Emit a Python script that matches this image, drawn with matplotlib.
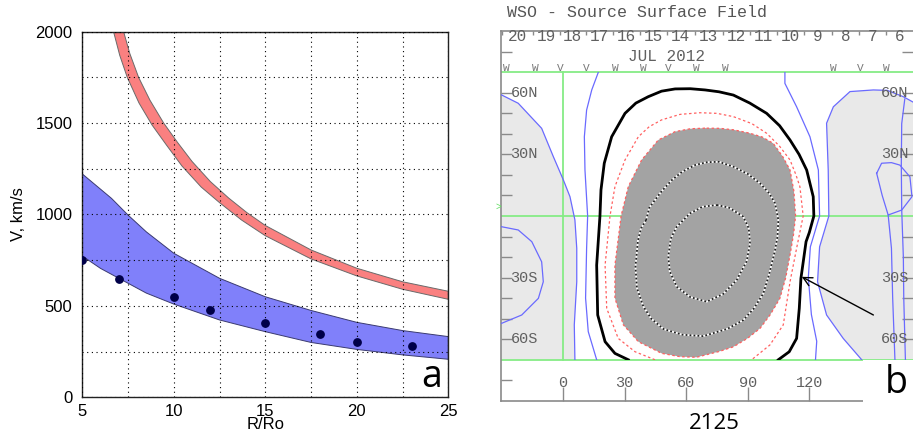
import numpy as np
import matplotlib
matplotlib.use("Agg")
import matplotlib.pyplot as plt
from matplotlib.patches import Rectangle

# ---------------- panel a: speed vs heliocentric distance ----------------
red_upper_R = [7.26, 7.6, 8.08, 8.7, 9.45, 10.2, 11, 12, 13, 14, 15, 17.5, 20, 22.5, 25]
red_upper_V = [2000, 1880, 1750, 1625, 1500, 1395, 1290, 1180, 1090, 1010, 940, 806, 706, 632, 580]
red_lower_R = [6.71, 7.05, 7.46, 8.1, 8.81, 9.6, 10.45, 11.5, 12.5, 13.7, 15, 17.5, 20, 22.5, 25]
red_lower_V = [2000, 1870, 1750, 1610, 1490, 1380, 1265, 1150, 1065, 970, 884, 757, 664, 591, 536]

blue_upper_R = [5, 6.6, 7.5, 8.5, 10, 12.5, 15, 17.5, 20, 22.5, 25]
blue_upper_V = [1222, 1088, 997, 905, 788, 651, 550, 475, 410, 365, 332]
blue_lower_R = [5, 6, 7.5, 8.5, 10, 12.5, 15, 17.5, 20, 22.5, 25]
blue_lower_V = [773, 705, 624, 570, 510, 423, 359, 300, 262, 232, 208]

obs_R = [5, 7, 10, 12, 15, 18, 20, 23]
obs_V = [751, 645, 550, 476, 406, 348, 301, 279]

# ---------------- panel b: WSO source surface field (lon, lat) ----------------
days = ['20', '19', '18', '17', '16', '15', '14', '13', '12', '11', '10', '9', '8', '7', '6']
day_sep_lon = [-29.6, -14.5, -1.7, 11.3, 24.5, 37.7, 50.6, 64.2, 77.9, 91.1,
               104.4, 117.6, 130.9, 144.2, 157.5, 170.8]
obs_w_lon = [-27.4, -13.6, 25.3, 39.1, 65.1, 78.9, 131.7, 157.7]
obs_v_lon = [-1.5, 11.5, 51.3, 144.7]
lon_ticks = [0, 30, 60, 90, 120]
lat_ticks = [-80, -60, -50, -40, -30, -20, -10, 10, 20, 30, 40, 50, 60, 80]
lat_labels = {60: '60N', 30: '30N', -30: '30S', -60: '60S'}

neutral_line = [(31.8, -70), (25.3, -66.9), (20.5, -61.2), (16.9, -48.2), (16.4, -23.9),
                (18, 0), (18.5, 12.7), (20.1, 25.7), (23.7, 38.6), (30.2, 50), (35.5, 55),
                (41.5, 58.1), (48, 60.8), (54.6, 61.9), (62, 62), (69.2, 61.4), (76, 60.5),
                (83, 58.9), (91, 55), (99.2, 50), (105.5, 44), (110.6, 37), (115, 30),
                (118.7, 22.4), (121.9, 9.4), (122.2, 0), (120, -8), (118.4, -12.5),
                (115.9, -30.4), (115.1, -45), (113.8, -59.6), (110.2, -66.1), (104.9, -70)]
red_outer = [(44.8, -70), (35.1, -66.1), (26.9, -59.6), (21.3, -45), (20.5, -23.9),
             (22.9, 0), (25.3, 14.3), (30.2, 27.3), (36.7, 38.6), (42, 43.5), (48, 46.8),
             (57, 49.5), (66.7, 50.3), (75, 50), (83, 48.4), (92, 45), (99.2, 40.3),
             (105.5, 34), (110.6, 27.3), (113.5, 20), (115.4, 14.3), (117, 0),
             (113.8, -15.7), (110.6, -32), (107.3, -53), (100.8, -62.8), (91.9, -70)]
neg_core = [(69.2, 42.8), (62, 42.5), (54.6, 41.1), (46.4, 37), (38.3, 27.3), (31.8, 14.3),
            (28.3, 0), (25.3, -23.9), (25.3, -40), (29.4, -53), (36.7, -61.2), (48.1, -66.9),
            (57, -68.5), (65, -68.8), (76, -66), (83, -63.7), (90, -59.5), (96, -54.7),
            (101, -48), (105.7, -40), (108.5, -30), (110.6, -19), (112.3, -9), (113.3, 0),
            (112.5, 12), (110.6, 22.4), (107, 29), (102.4, 35.4), (97, 38.5), (91.1, 40.3),
            (83, 42), (76.5, 42.7)]
mid_dotted = [(40.5, -2), (42, 4), (44.8, 7.8), (48, 12), (53, 17.5), (58, 21.5), (64.3, 24.8),
              (70, 26.2), (76, 26.4), (83, 24), (90, 20.5), (96, 15.9), (100.5, 11),
              (103.3, 6.2), (104.9, -1.9), (104.5, -10), (103.3, -16.6), (100.5, -28),
              (97.6, -37.7), (93, -45), (87.8, -50.7), (80, -55), (68.3, -58.5), (58, -57.8),
              (48.9, -55), (43, -50), (39.1, -44), (36, -35), (35.3, -24.7), (36.5, -12),
              (38, -6), (40.5, -2)]
inner_dotted = [(74.9, 5.4), (81, 4), (87.8, -0.3), (90.5, -6), (91.1, -13.3), (89.5, -22),
                (84.6, -31.2), (78, -38), (70, -41.7), (62, -39.5), (55.4, -34.4), (52, -27),
                (51.3, -19.8), (52.5, -11), (55.4, -5.2), (61.9, 1.3), (68, 4.5), (74.9, 5.4)]
left_edge = [(-30, 59), (-21.8, 54.9), (-10.4, 42.7), (-4.7, 28.9), (0.2, 17.5), (3.4, 9.4),
             (5.8, -1.9), (6.7, -15.7), (6.7, -32), (5.5, -53), (5.8, -70)]
left_blue = [(17.2, 70), (14, 61.4), (11.5, 51.6), (10.4, 38.6), (10.7, 22.4), (12, 0),
             (11.5, -15.7), (11, -40), (12.3, -56.3), (16.4, -70)]
left_loop = [(-30, -5.2), (-21.8, -6.8), (-15.2, -12.5), (-10.4, -22.3), (-9.6, -32),
             (-12, -40.1), (-20.1, -48.2), (-30, -52.3)]
right_blue = [(108.1, 70), (108.1, 64.6), (113.8, 53.2), (120.3, 38.6), (124.4, 22.4),
              (125, 0), (120.5, -15), (119.5, -30), (121, -48), (123.6, -61), (123, -70)]
right_edge = [(170.5, 55.5), (165.8, 58.1), (158, 61.2), (151.2, 61.4), (139.8, 60.6),
              (131.7, 53.2), (128.4, 45.2), (129.2, 22.4), (129.5, 0), (125, -15),
              (124, -32), (128.4, -48.2), (136.5, -59.6), (145.5, -70)]
right_loop = [(152.8, 20.8), (155.2, 25.7), (160, 26), (164.1, 24.8), (169, 19.1),
              (170, 9.4), (165, 2.9), (158.4, 0.5), (155.5, 10), (152.8, 20.8)]
right_v1 = [(166.5, 57), (165, 45), (164.8, 25), (165, 3), (165.8, -20), (166, -40), (166.8, -70)]
right_v2 = [(158.4, 0.5), (160, -15.7), (160.6, -40), (161.7, -70)]
arrow_tail = (151.2, -48.2)
arrow_head = (116.3, -29.6)

fig = plt.figure(figsize=(9.13, 4.36), dpi=100)

# ---------------- panel a ----------------
ax1 = fig.add_axes([0.0901, 0.0888, 0.4009, 0.8385])
ax1.fill(np.r_[red_upper_R, red_lower_R[::-1]], np.r_[red_upper_V, red_lower_V[::-1]],
         fc='#fa8080', ec='#6a6a6a', lw=0.7, zorder=1)
ax1.fill(np.r_[blue_upper_R, blue_lower_R[::-1]], np.r_[blue_upper_V, blue_lower_V[::-1]],
         fc='#8080fa', ec='#3a3a70', lw=0.7, zorder=1)
ax1.scatter(obs_R, obs_V, s=28, color='#000048', zorder=5)
ax1.set_xlim(5, 25)
ax1.set_ylim(0, 2000)
ax1.set_xticks([5, 10, 15, 20, 25])
ax1.set_xticks([7.5, 12.5, 17.5, 22.5], minor=True)
ax1.set_yticks([0, 500, 1000, 1500, 2000])
ax1.set_yticks([250, 750, 1250, 1750], minor=True)
ax1.grid(which='both', color='black', linestyle=(0, (1, 3.2)), linewidth=0.8, zorder=3)
ax1.set_axisbelow(False)
ax1.tick_params(which='both', length=0, labelsize=12)
ax1.tick_params(axis='x', pad=4.5)
ax1.tick_params(axis='y', pad=7)
for lab in ax1.get_xticklabels() + ax1.get_yticklabels():
    lab.set_family(['Liberation Sans', 'DejaVu Sans'])
for s in ax1.spines.values():
    s.set_linewidth(1.0)
    s.set_color('#222222')
ax1.set_xlabel('R/Ro', fontsize=12, family=['Liberation Sans', 'DejaVu Sans'], labelpad=-1)
ax1.set_ylabel('V, km/s', fontsize=12, family=['Liberation Sans', 'DejaVu Sans'], labelpad=7)
fig.text(0.4726, 0.1124, 'a', fontsize=27, family=['Open Sans', 'DejaVu Sans'],
         ha='center', va='baseline')

# ---------------- panel b ----------------
mono = ['Liberation Mono', 'DejaVu Sans Mono']
tcol = '#606060'
ax2 = fig.add_axes([0.5492, 0.0807, 0.4508, 0.8477])
ax2.set_xlim(-30, 170.5)
ax2.set_ylim(-90, 90)
clip = Rectangle((-30, -70), 200.5, 140, transform=ax2.transData)


def poly(pts):
    a = np.array(pts, dtype=float)
    return a[:, 0], a[:, 1]


# light gray regions
lx, ly = poly(left_edge)
ax2.fill(np.r_[lx, -30], np.r_[ly, -70], fc='#e9e9e9', ec='none', zorder=1)
rx, ry = poly(right_edge)
ax2.fill(np.r_[rx, 170.5], np.r_[ry, -70], fc='#e9e9e9', ec='none', zorder=1)

# green grid lines
gcol = '#86ec86'
for lat in (70, 0, -70):
    ax2.plot([-30, 170.5], [lat, lat], color=gcol, lw=1.3, zorder=1.5)
ax2.plot([0, 0], [-70, 70], color=gcol, lw=1.3, zorder=1.5)

# dark gray core with red dotted boundary
cx, cy = poly(neg_core)
ax2.fill(cx, cy, fc='#a3a3a3', ec='none', zorder=2)
ax2.plot(np.r_[cx, cx[0]], np.r_[cy, cy[0]], color='#ff6060', lw=0.9,
         linestyle=(0, (2, 2)), zorder=3)
ox, oy = poly(red_outer)
ln = ax2.plot(ox, oy, color='#ff6060', lw=0.9, linestyle=(0, (2, 2)), zorder=3)[0]
ln.set_clip_path(clip)

# blue contours
for pts in (left_edge, left_blue, left_loop, right_blue, right_edge, right_loop, right_v1, right_v2):
    bx, by = poly(pts)
    ln = ax2.plot(bx, by, color='#6a6aff', lw=0.9, zorder=3)[0]
    ln.set_clip_path(clip)

# black/white dotted contours
for pts in (mid_dotted, inner_dotted):
    dx, dy = poly(pts)
    ax2.plot(dx, dy, color='white', lw=1.3, zorder=4)
    ax2.plot(dx, dy, color='#202020', lw=1.3, linestyle=(0, (1, 1.2)), zorder=4.1)

# neutral line
nx, ny = poly(neutral_line)
ln = ax2.plot(nx, ny, color='black', lw=2.0, zorder=5)[0]
ln.set_clip_path(clip)

ax2.annotate('', xy=arrow_head, xytext=arrow_tail,
             arrowprops=dict(arrowstyle='->', color='black', lw=1.0, mutation_scale=16,
                             shrinkA=0, shrinkB=0), zorder=6)

# frame and ticks
for side in ('left', 'top', 'bottom'):
    ax2.spines[side].set_color('#8a8a8a')
    ax2.spines[side].set_linewidth(1.2)
ax2.spines['right'].set_visible(False)
ax2.set_yticks(lat_ticks)
ax2.set_xticks(lon_ticks)
ax2.tick_params(axis='y', direction='in', length=8, width=1.0, color='#8a8a8a',
                left=True, right=True, labelleft=False)
ax2.tick_params(axis='x', direction='in', length=10, width=1.0, color='#8a8a8a',
                bottom=True, top=False, labelbottom=False)

for lat, lab in lat_labels.items():
    ax2.text(-25.6, lat, lab, ha='left', va='center', fontsize=11, family=mono, color=tcol, zorder=7)
    ax2.text(168.2, lat, lab, ha='right', va='center', fontsize=11, family=mono, color=tcol, zorder=7)
for lon in lon_ticks:
    ax2.text(lon, -81.5, str(lon), ha='center', va='center', fontsize=11, family=mono, color=tcol)

# date strip on top
ax2.vlines(day_sep_lon, 88.2, 90, color='#8a8a8a', lw=1.0)
for i, d in enumerate(days):
    mid = 0.5 * (day_sep_lon[i] + day_sep_lon[i + 1])
    ax2.text(mid, 87.3, d, ha='center', va='center', fontsize=11.5, family=mono, color=tcol)
ax2.text(50.6, 77.6, 'JUL 2012', ha='center', va='center', fontsize=11.5, family=mono, color=tcol)
for lon in obs_w_lon:
    ax2.text(lon, 72.2, 'W', ha='center', va='center', fontsize=8, family=mono, color='#777777')
for lon in obs_v_lon:
    ax2.text(lon, 72.2, 'V', ha='center', va='center', fontsize=8, family=mono, color='#777777')
ax2.text(-31.5, 4.5, '>', ha='center', va='center', fontsize=7, family=mono, color='#66dd66',
         clip_on=False)

ax2.add_patch(Rectangle((146.1, -91.5), 25, 21.2, fc='white', ec='none', zorder=8, clip_on=False))
fig.text(0.9814, 0.0986, 'b', fontsize=27, family=['Open Sans', 'DejaVu Sans'],
         ha='center', va='baseline', zorder=9)
fig.text(0.555, 0.9709, 'WSO - Source Surface Field', ha='left', va='center', fontsize=12,
         family=mono, color='#555555')
fig.text(0.7829, 0.0291, '2125', ha='center', va='center', fontsize=16,
         family=['Open Sans', 'DejaVu Sans'])

fig.savefig('out.png', dpi=100)
